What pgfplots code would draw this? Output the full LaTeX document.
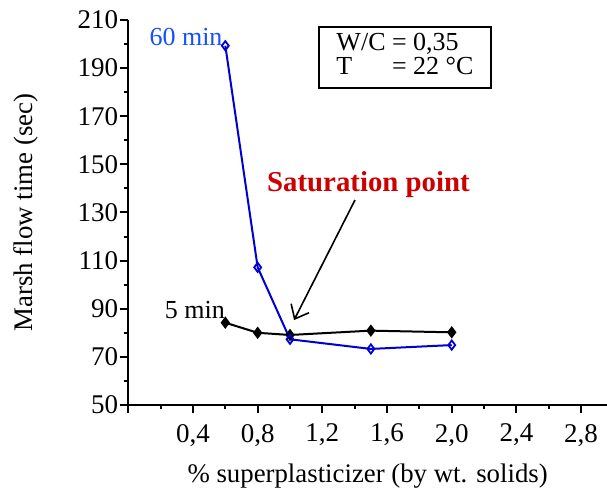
\documentclass[border=0pt]{standalone}
\usepackage{pgfplots}
\pgfplotsset{compat=1.18}
\usetikzlibrary{arrows.meta}
\usepackage{fontspec}
\setmainfont{Liberation Serif}
\definecolor{lineblue}{RGB}{0,0,210}
\definecolor{textblue}{RGB}{20,80,255}
\definecolor{satred}{RGB}{204,0,0}
\begin{document}
\begin{tikzpicture}
\begin{axis}[
  scale only axis,
  width=239.35pt, height=192.5pt,
  xmin=0, xmax=2.96, ymin=50, ymax=210,
  axis x line=bottom, axis y line=left,
  axis line style={-, line width=1pt},
  tick align=outside,
  major tick length=4pt, minor tick length=2pt,
  every tick/.style={black, line width=1pt},
  xtick={0,0.4,0.8,1.2,1.6,2.0,2.4,2.8},
  xticklabels={{},{0,4},{0,8},{1,2},{1,6},{2,0},{2,4},{2,8}},
  minor x tick num=1,
  ytick={50,70,90,110,130,150,170,190,210},
  minor y tick num=1,
  /pgf/number format/assume math mode=true,
  tick label style={font=\fontsize{13.5}{15}\selectfont},
  xticklabel style={yshift=-2pt},
  yticklabel style={xshift=2.5pt},
  label style={font=\fontsize{13.4}{16}\selectfont},
  xlabel={\% superplasticizer (by wt. solids)},
  xlabel style={yshift=-2pt},
  ylabel={Marsh flow time (sec)},
  ylabel style={yshift=13pt},
  clip=false,
]
\addplot[black, line width=1pt, mark=diamond*, mark size=2.3pt, mark options={solid, fill=black}]
  coordinates {(0.6,84.2) (0.8,80.0) (1.0,79.1) (1.5,80.9) (2.0,80.2)};
\addplot[lineblue, line width=1pt, mark=diamond, mark size=2.3pt, mark options={solid, fill=white, line width=0.9pt}]
  coordinates {(0.6,199.3) (0.8,107.2) (1.0,77.3) (1.5,73.3) (2.0,74.9)};
\node[anchor=east, text=textblue, font=\fontsize{13}{15}\selectfont, inner sep=0pt] at (axis cs:0.585,202.9) {60 min};
\node[anchor=east, font=\fontsize{13}{15}\selectfont, inner sep=0pt] at (axis cs:0.60,89.5) {5 min};
\node[draw, line width=1pt, font=\fontsize{13}{12}\selectfont, inner sep=2pt, minimum width=86pt, minimum height=30.5pt, align=left] at (axis cs:1.711,194.4)
  {\begin{tabular}{@{}l@{\ }l@{}}W/C & = 0,35\\T & = 22 °C\end{tabular}};
\node[text=satred, font=\fontsize{14.4}{16}\selectfont\bfseries, inner sep=0pt] at (axis cs:1.485,141.4) {Saturation point};
\draw[line width=0.8pt, -{Straight Barb[length=6pt,width=10pt]}] (axis cs:1.402,135.2) -- (axis cs:1.025,85.3);
\end{axis}
\pgfresetboundingbox
\useasboundingbox (-64.15pt,-46pt) rectangle (239.35pt,202.5pt);
\end{tikzpicture}
\end{document}
